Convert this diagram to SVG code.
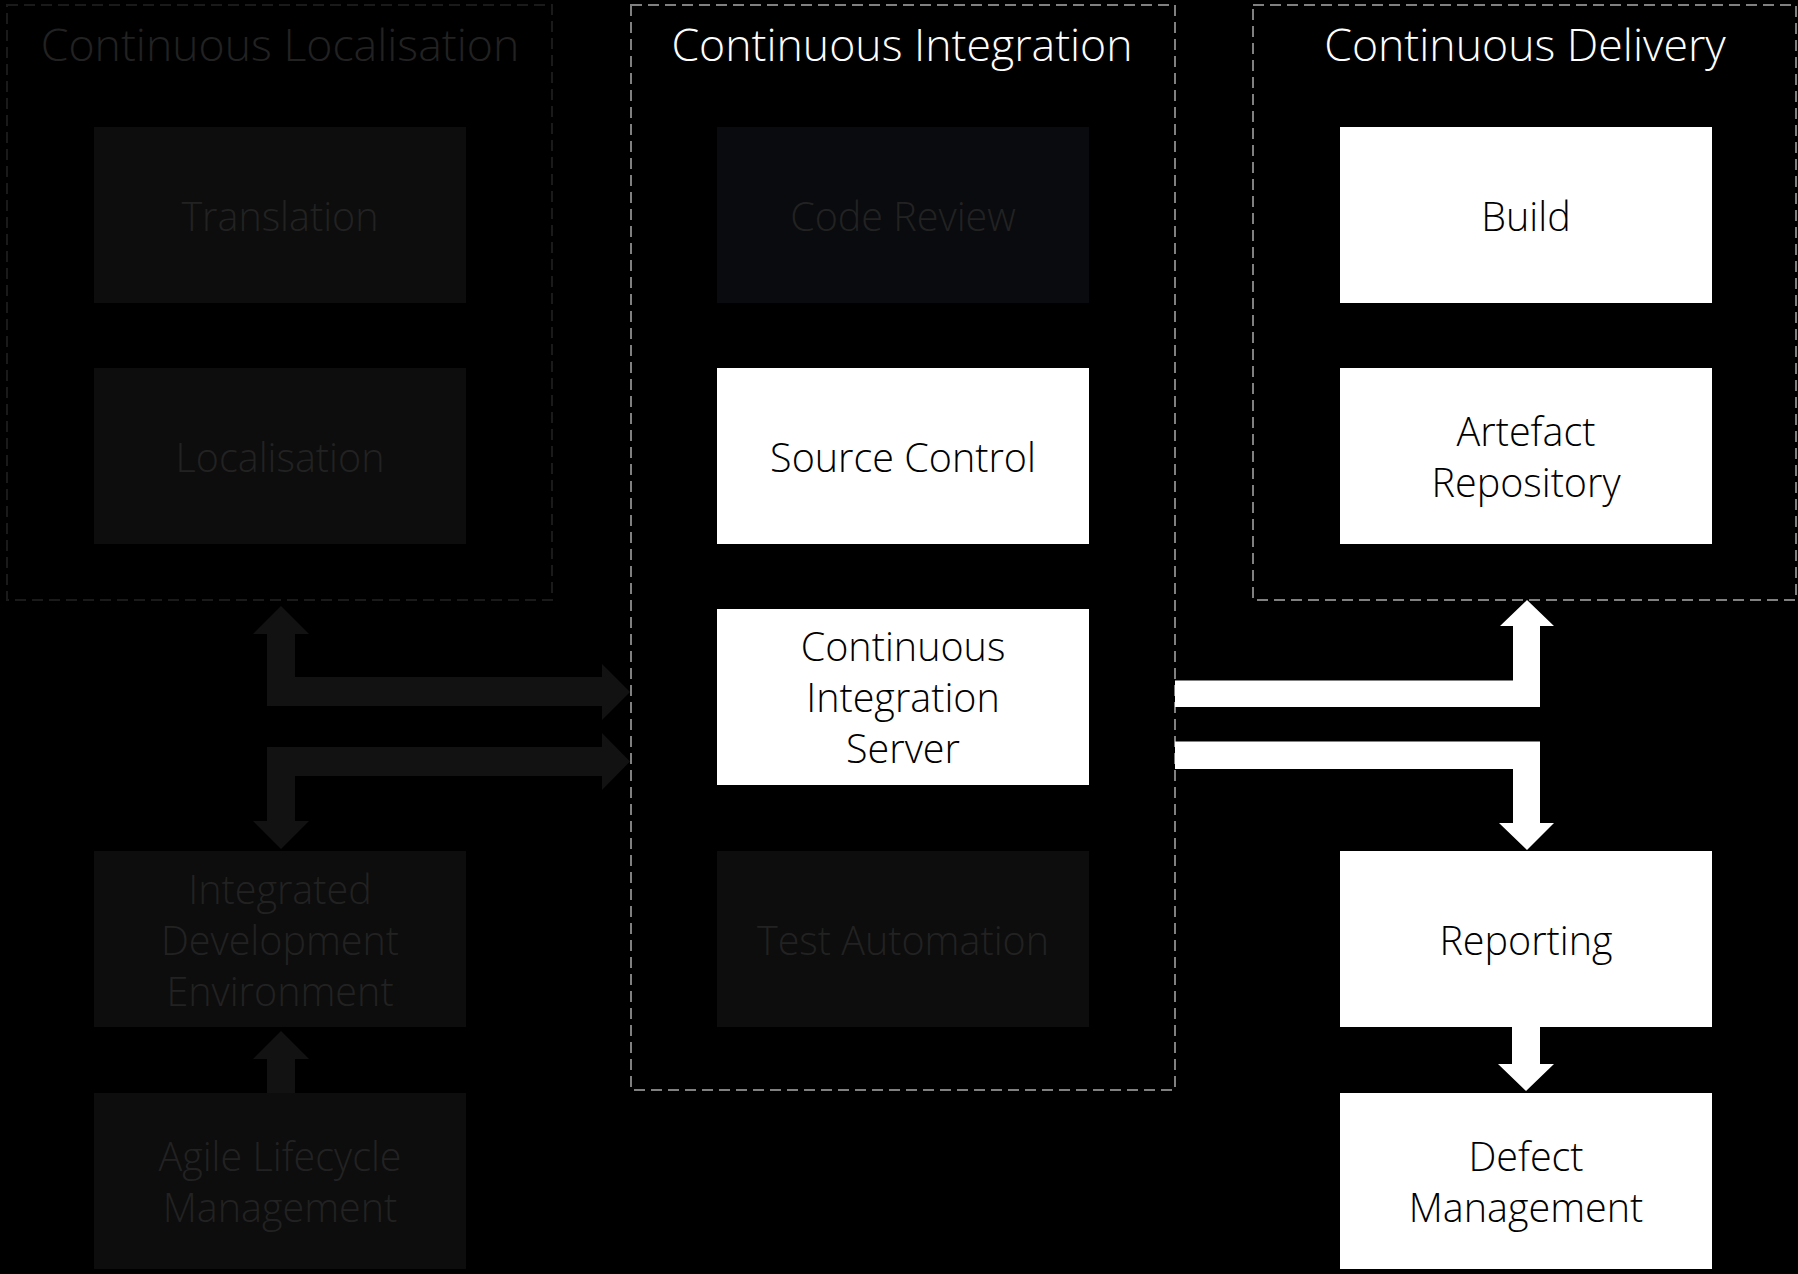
<svg xmlns="http://www.w3.org/2000/svg" width="1798" height="1274" viewBox="0 0 1798 1274">
<style>
  text { font-family: "Open Sans", "Lato", "DejaVu Sans", sans-serif; font-weight: 300; text-anchor: middle; }
  .title { font-size: 44.6px; }
  .lbl { font-size: 39.5px; }
  .cont { fill: none; stroke-width: 2; stroke-dasharray: 11 6; }
  .dark-box { fill: #0d0d0d; }
  .dark-txt { fill: #222222; }
  .white-box { fill: #ffffff; }
  .black-txt { fill: #000000; }
  .light-txt { fill: #ffffff; }
  .dark-arrow { fill: #121212; }
  .white-arrow { fill: #ffffff; }
</style>
<rect x="0" y="0" width="1798" height="1274" fill="#000000"/>

<g id="container-localisation">
  <rect class="cont" x="7" y="5" width="545" height="595" stroke="#1a1a1a"/>
  <text class="title dark-txt" x="280" y="61">Continuous Localisation</text>
</g>
<g id="container-integration">
  <rect class="cont" x="631" y="5" width="544" height="1085" stroke="#808080"/>
  <text class="title light-txt" x="902" y="61">Continuous Integration</text>
</g>
<g id="container-delivery">
  <rect class="cont" x="1253" y="5" width="543" height="595" stroke="#808080"/>
  <text class="title light-txt" x="1525" y="61">Continuous Delivery</text>
</g>

<g id="connectors">
  <path class="dark-arrow" d="M281,606 L309,634 L295,634 L295,677 L602,677 L602,664 L630,692 L602,720 L602,706 L267,706 L267,634 L253,634 Z"/>
  <path class="dark-arrow" d="M267,747 L602,747 L602,733 L630,761.5 L602,790 L602,776 L295,776 L295,821 L309,821 L281,849 L253,821 L267,821 Z"/>
  <path class="dark-arrow" d="M267,1093 L267,1059 L253,1059 L281,1031 L309,1059 L295,1059 L295,1093 Z"/>
  <path class="white-arrow" d="M1175,680.5 L1513,680.5 L1513,626 L1500,626 L1527,600 L1554,626 L1540,626 L1540,707 L1175,707 Z"/>
  <path class="white-arrow" d="M1175,741.5 L1540,741.5 L1540,823 L1554,823 L1527,850 L1499,823 L1513,823 L1513,769 L1175,769 Z"/>
  <path class="white-arrow" d="M1512,1027 L1540,1027 L1540,1064 L1554,1064 L1526,1091 L1498,1064 L1512,1064 Z"/>
</g>

<g id="translation">
  <rect class="dark-box" x="94" y="127" width="372" height="176"/>
  <text class="lbl dark-txt" x="280" y="231">Translation</text>
</g>
<g id="localisation">
  <rect class="dark-box" x="94" y="368" width="372" height="176"/>
  <text class="lbl dark-txt" x="280" y="472">Localisation</text>
</g>
<g id="ide">
  <rect class="dark-box" x="94" y="851" width="372" height="176"/>
  <text class="lbl dark-txt" x="280" y="904">Integrated</text>
  <text class="lbl dark-txt" x="280" y="955">Development</text>
  <text class="lbl dark-txt" x="280" y="1006">Environment</text>
</g>
<g id="agile">
  <rect class="dark-box" x="94" y="1093" width="372" height="176"/>
  <text class="lbl dark-txt" x="280" y="1171">Agile Lifecycle</text>
  <text class="lbl dark-txt" x="280" y="1222">Management</text>
</g>

<g id="code-review">
  <rect x="717" y="127" width="372" height="176" fill="#0a0b0e"/>
  <text class="lbl dark-txt" x="903" y="231">Code Review</text>
</g>
<g id="source-control">
  <rect class="white-box" x="717" y="368" width="372" height="176"/>
  <text class="lbl black-txt" x="903" y="472">Source Control</text>
</g>
<g id="ci-server">
  <rect class="white-box" x="717" y="609" width="372" height="176"/>
  <text class="lbl black-txt" x="903" y="661">Continuous</text>
  <text class="lbl black-txt" x="903" y="712">Integration</text>
  <text class="lbl black-txt" x="903" y="763">Server</text>
</g>
<g id="test-automation">
  <rect class="dark-box" x="717" y="851" width="372" height="176"/>
  <text class="lbl dark-txt" x="903" y="955">Test Automation</text>
</g>

<g id="build">
  <rect class="white-box" x="1340" y="127" width="372" height="176"/>
  <text class="lbl black-txt" x="1526" y="231">Build</text>
</g>
<g id="artefact-repository">
  <rect class="white-box" x="1340" y="368" width="372" height="176"/>
  <text class="lbl black-txt" x="1526" y="446">Artefact</text>
  <text class="lbl black-txt" x="1526" y="497">Repository</text>
</g>
<g id="reporting">
  <rect class="white-box" x="1340" y="851" width="372" height="176"/>
  <text class="lbl black-txt" x="1526" y="955">Reporting</text>
</g>
<g id="defect-management">
  <rect class="white-box" x="1340" y="1093" width="372" height="176"/>
  <text class="lbl black-txt" x="1526" y="1171">Defect</text>
  <text class="lbl black-txt" x="1526" y="1222">Management</text>
</g>
</svg>
